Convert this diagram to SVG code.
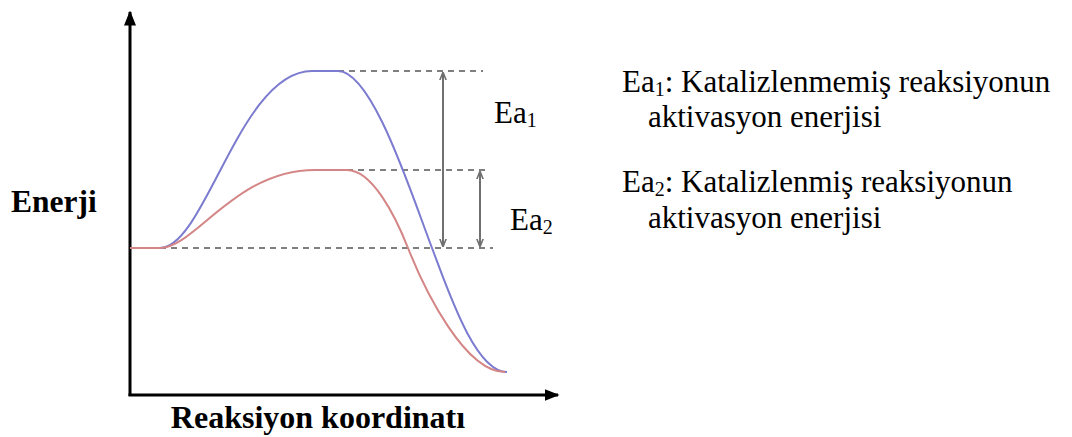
<svg xmlns="http://www.w3.org/2000/svg" width="1072" height="437" viewBox="0 0 1072 437">
<style>
.t{font-family:"Liberation Serif","Times New Roman","DejaVu Serif",serif;fill:#000}
.b{font-weight:bold}
.dash{stroke:#555;stroke-width:1.6;stroke-dasharray:6 5;fill:none}
.ax{stroke:#000;stroke-width:3;fill:none}
.va{stroke:#707070;stroke-width:2;fill:none;marker-start:url(#ah);marker-end:url(#ah)}
</style>
<defs>
<marker id="ah" viewBox="0 0 10 10" refX="9" refY="5" markerWidth="8" markerHeight="8" orient="auto-start-reverse" markerUnits="userSpaceOnUse">
<path d="M0,1 L10,5 L0,9" fill="none" stroke="#707070" stroke-width="2"/>
</marker>
<marker id="axh" viewBox="0 0 10 10" refX="9" refY="5" markerWidth="15" markerHeight="15" orient="auto" markerUnits="userSpaceOnUse">
<path d="M0,1 L10,5 L0,9 Z" fill="#000"/>
</marker>
</defs>
<g id="axes">
<line class="ax" x1="130" y1="396" x2="130" y2="12" marker-end="url(#axh)"/>
<line class="ax" x1="128.5" y1="395" x2="558" y2="395" marker-end="url(#axh)"/>
</g>
<g id="connectors">
<line class="dash" x1="338" y1="71" x2="483" y2="71"/>
<line class="dash" x1="347" y1="170" x2="487" y2="170"/>
<line class="dash" x1="160" y1="248" x2="493" y2="248"/>
<line class="va" x1="443" y1="73" x2="443" y2="246"/>
<line class="va" x1="480" y1="172" x2="480" y2="246"/>
</g>
<g id="curve-uncatalyzed">
<path d="M130,248 L160,248 C205,248 240,71 312,71 L338,71 C372,71 410,190 432,248 C448,290 475,372 507,372" fill="none" stroke="#7b7bd0" stroke-width="2"/>
</g>
<g id="curve-catalyzed">
<path d="M130,248 L160,248 C195,248 235,170 315,170 L347,170 C372,170 395,215 408,248 C425,291 465,372 505,372" fill="none" stroke="#d48585" stroke-width="2"/>
</g>
<g id="label-ea1"><text class="t" x="494" y="123" font-size="31">Ea<tspan font-size="20" dy="4">1</tspan></text></g>
<g id="label-ea2"><text class="t" x="510" y="230" font-size="31">Ea<tspan font-size="20" dy="4">2</tspan></text></g>
<g id="label-y"><text class="t b" x="11" y="212" font-size="31.5">Enerji</text></g>
<g id="label-x"><text class="t b" x="318" y="428" font-size="32" text-anchor="middle">Reaksiyon koordinatı</text></g>
<g id="legend">
<text class="t" x="622" y="92" font-size="31">Ea<tspan font-size="20" dy="4">1</tspan><tspan dy="-4">: Katalizlenmemiş reaksiyonun</tspan></text>
<text class="t" x="648" y="127" font-size="31">aktivasyon enerjisi</text>
<text class="t" x="622" y="192" font-size="31">Ea<tspan font-size="20" dy="4">2</tspan><tspan dy="-4">: Katalizlenmiş reaksiyonun</tspan></text>
<text class="t" x="648" y="228" font-size="31">aktivasyon enerjisi</text>
</g>
</svg>
